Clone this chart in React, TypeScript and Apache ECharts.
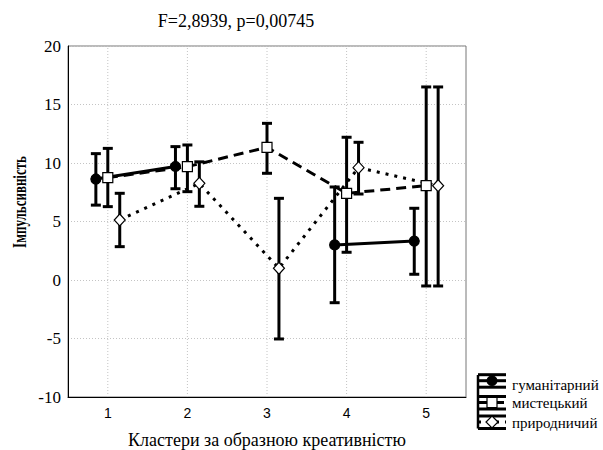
import React, { useEffect, useRef } from "react";
import * as echarts from "echarts";

const clusters = [1, 2, 3, 4, 5];
const seriesNames = ["гуманітарний", "мистецький", "природничий"];
const offsets = [-0.15, 0, 0.15];
const humMean = [8.63, 9.7, null, 3.0, 3.33];
const humLow = [6.4, 7.8, null, -1.94, 0.49];
const humHigh = [10.8, 11.4, null, 7.95, 6.13];
const artMean = [8.75, 9.69, 11.34, 7.41, 8.06];
const artLow = [6.27, 7.55, 9.12, 2.37, -0.51];
const artHigh = [11.25, 11.54, 13.39, 12.2, 16.5];
const natMean = [5.13, 8.26, 1.0, 9.6, 8.06];
const natLow = [2.85, 6.3, -5.04, 7.35, -0.51];
const natHigh = [7.41, 10.1, 6.98, 11.77, 16.5];
const yMin = -10;
const yMax = 20;
const yStep = 5;
const titleText = "F=2,8939, p=0,00745";
const xName = "Кластери за образною креативністю";
const yName = "Імпульсивність";

const SERIF = "Liberation Serif, Times New Roman, serif";
const SANS = "Liberation Sans, Arial, sans-serif";

const means = [humMean, artMean, natMean];
const lows = [humLow, artLow, natLow];
const highs = [humHigh, artHigh, natHigh];
const symbols = ["circle", "rect", "diamond"];
const symbolSizes: any[] = [10, 10, [11, 12]];
const symbolFill = ["#000", "#fff", "#fff"];
const dashes: any[] = ["solid", [10, 6], [3, 6]];

export default function App() {
  const ref = useRef<HTMLDivElement>(null);
  useEffect(() => {
    const chart = echarts.init(ref.current!, null, { renderer: "svg" });
    const series: any[] = [];
    series.push({
      type: "custom",
      z: 0,
      silent: true,
      data: clusters.map((c) => [c]),
      encode: { x: 0 },
      renderItem: (params: any, api: any) => {
        const c = api.value(0);
        const p1 = api.coord([c, yMin]);
        const p2 = api.coord([c, yMax]);
        return {
          type: "line",
          shape: { x1: p1[0], y1: p1[1], x2: p2[0], y2: p2[1] },
          style: { stroke: "#c4c4c4", lineWidth: 1, lineDash: [1, 2] },
        };
      },
    });
    means.forEach((m, si) => {
      const errData: any[] = [];
      clusters.forEach((c, i) => {
        if (m[i] !== null) errData.push([c + offsets[si], lows[si][i], highs[si][i]]);
      });
      series.push({
        type: "custom",
        z: 2,
        silent: true,
        data: errData,
        encode: { x: 0, y: [1, 2] },
        renderItem: (params: any, api: any) => {
          const x = api.value(0);
          const lo = api.coord([x, api.value(1)]);
          const hi = api.coord([x, api.value(2)]);
          const hw = 5;
          const st = { stroke: "#000", lineWidth: 3 };
          return {
            type: "group",
            children: [
              { type: "line", shape: { x1: lo[0], y1: lo[1], x2: hi[0], y2: hi[1] }, style: st },
              { type: "line", shape: { x1: lo[0] - hw, y1: lo[1], x2: lo[0] + hw, y2: lo[1] }, style: st },
              { type: "line", shape: { x1: hi[0] - hw, y1: hi[1], x2: hi[0] + hw, y2: hi[1] }, style: st },
            ],
          };
        },
      });
      series.push({
        type: "line",
        name: seriesNames[si],
        z: 3,
        data: clusters.map((c, i) => [c + offsets[si], m[i] === null ? "-" : m[i]]),
        connectNulls: false,
        symbol: symbols[si],
        symbolSize: symbolSizes[si],
        showAllSymbol: true,
        itemStyle: { color: symbolFill[si], borderColor: "#000", borderWidth: 1.2 },
        lineStyle: { color: "#000", width: 3, type: dashes[si] },
      });
    });

    const legendRows = [380.7, 402.5, 422];
    const legendTextY = [384.5, 402.5, 422.5];
    const graphics: any[] = [];
    graphics.push({
      type: "text",
      x: 236,
      y: 21,
      style: { text: titleText, fontFamily: SERIF, fontSize: 18, fill: "#000", align: "center", verticalAlign: "middle" },
    });
    graphics.push({
      type: "text",
      x: 267,
      y: 440,
      style: { text: xName, fontFamily: SERIF, fontSize: 18, fill: "#000", align: "center", verticalAlign: "middle" },
    });
    graphics.push({
      type: "text",
      x: 20,
      y: 202,
      rotation: Math.PI / 2,
      scaleX: 0.72,
      style: { text: yName, fontFamily: SERIF, fontWeight: "bold", fontSize: 18, fill: "#000", align: "center", verticalAlign: "middle" },
    });
    graphics.push({
      type: "line",
      shape: { x1: 478, y1: 375, x2: 478, y2: 428.5 },
      style: { stroke: "#000", lineWidth: 2.5 },
    });
    legendRows.forEach((cy, si) => {
      const st = { stroke: "#000", lineWidth: 3 };
      graphics.push({ type: "line", shape: { x1: 478, y1: cy - 6, x2: 506, y2: cy - 6 }, style: st });
      graphics.push({ type: "line", shape: { x1: 478, y1: cy + 6.5, x2: 506, y2: cy + 6.5 }, style: st });
      graphics.push({
        type: "line",
        shape: { x1: 478, y1: cy, x2: 506, y2: cy },
        style: { stroke: "#000", lineWidth: 3, lineDash: si === 0 ? null : dashes[si] },
      });
      if (si === 0) {
        graphics.push({ type: "circle", shape: { cx: 492, cy, r: 5 }, style: { fill: "#000", stroke: "#000" } });
      } else if (si === 1) {
        graphics.push({ type: "rect", shape: { x: 487, y: cy - 5, width: 10, height: 10 }, style: { fill: "#fff", stroke: "#000", lineWidth: 1.2 } });
      } else {
        graphics.push({
          type: "polygon",
          shape: { points: [[492, cy - 6], [498, cy], [492, cy + 6], [486, cy]] },
          style: { fill: "#fff", stroke: "#000", lineWidth: 1.2 },
        });
      }
      graphics.push({
        type: "text",
        x: 512,
        y: legendTextY[si],
        style: { text: seriesNames[si], fontFamily: SERIF, fontSize: 15, fill: "#000", align: "left", verticalAlign: "middle" },
      });
    });

    chart.setOption({
      animation: false,
      backgroundColor: "#fff",
      grid: { left: 68, top: 46, width: 398, height: 351, show: true, borderColor: "#777", borderWidth: 1 },
      xAxis: {
        type: "value",
        min: 0.5,
        max: 5.5,
        interval: 0.5,
        axisLine: { show: true, onZero: false, lineStyle: { color: "#000", width: 1 } },
        axisTick: { show: false },
        splitLine: { show: false },
        axisLabel: {
          margin: 9,
          color: "#000",
          fontFamily: SANS,
          fontSize: 14,
          formatter: (v: number) => (clusters.indexOf(v) >= 0 ? String(v) : ""),
        },
      },
      yAxis: {
        type: "value",
        min: yMin,
        max: yMax,
        interval: yStep,
        axisLine: { show: true, onZero: false, lineStyle: { color: "#000", width: 1 } },
        axisTick: { show: false },
        splitLine: { show: true, lineStyle: { color: "#c4c4c4", type: [1, 2], width: 1 } },
        axisLabel: {
          margin: 7,
          color: "#000",
          fontFamily: SERIF,
          fontSize: 17,
        },
      },
      graphic: graphics,
      series,
    });
    return () => chart.dispose();
  }, []);
  return <div ref={ref} style={{ width: 603, height: 450, position: "absolute", left: 0, top: 0 }} />;
}
